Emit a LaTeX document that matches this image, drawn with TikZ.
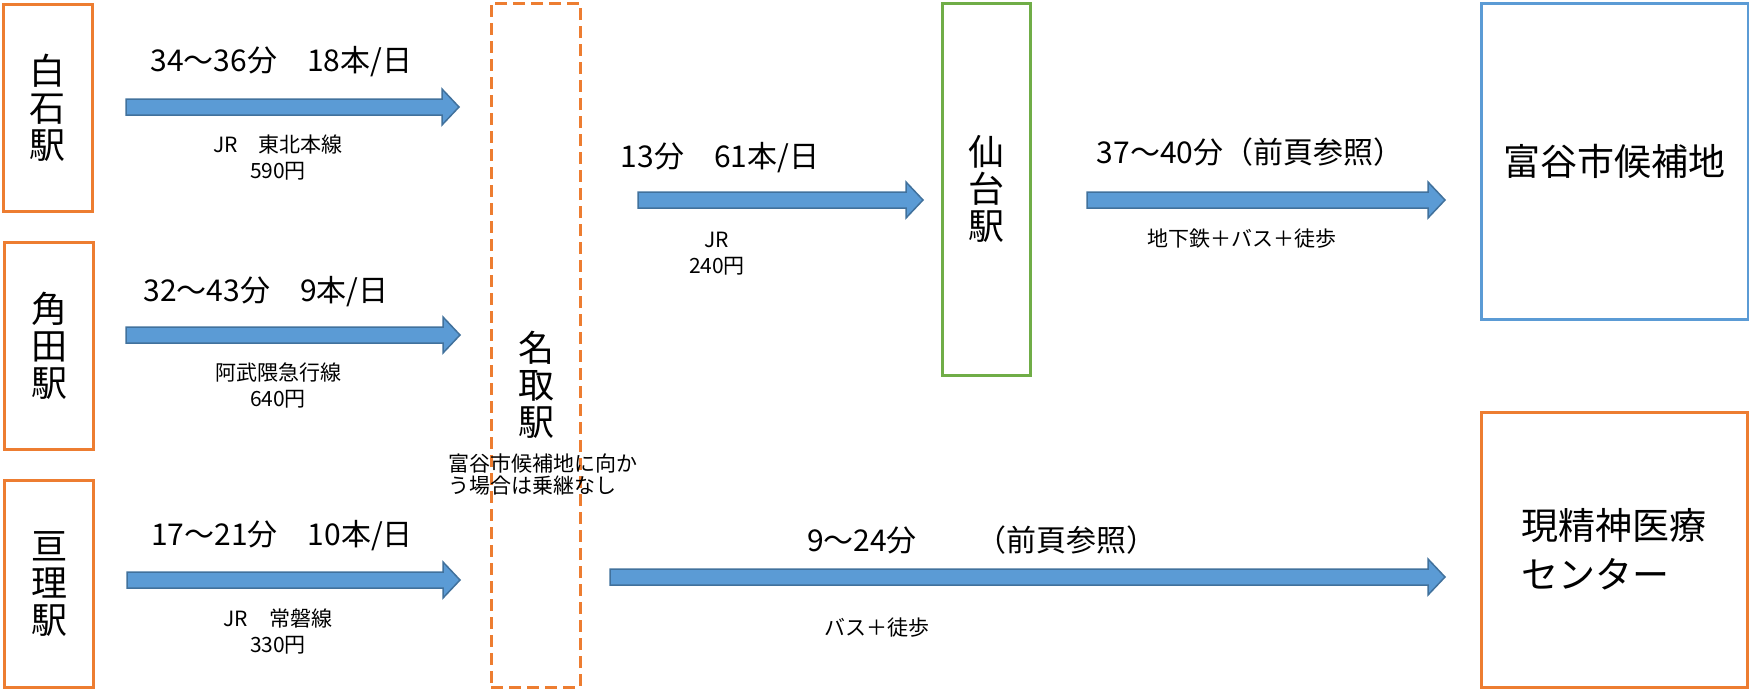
\documentclass[tikz,border=0pt]{standalone}
\usepackage{fontspec}
\setmainfont{Noto Sans CJK JP}
\usetikzlibrary{calc}

\definecolor{boxorange}{HTML}{ED7D31}
\definecolor{boxblue}{HTML}{5B9BD5}
\definecolor{boxgreen}{HTML}{70AD47}
\definecolor{arrowfill}{HTML}{5B9BD5}
\definecolor{arrowedge}{HTML}{41719C}

\tikzset{
  stationbox/.style={draw=boxorange, line width=3pt, minimum width=89pt, minimum height=207pt,
    inner sep=0pt, align=center, font=\fontsize{36}{37}\selectfont},
  goalbox/.style={line width=3pt, minimum width=267pt, inner sep=0pt,
    font=\fontsize{37}{49}\selectfont},
  biglabel/.style={inner sep=0pt, font=\fontsize{30}{36}\selectfont},
  smalllabel/.style={inner sep=0pt, align=center, font=\fontsize{21}{26}\selectfont},
  arrowbody/.style={fill=arrowfill, draw=arrowedge, line width=1.5pt, line join=miter}
}

% block arrow from #1 to #2 (shaft 16, head 36)
\newcommand{\blockarrow}[2]{%
  \path[arrowbody] ($(#1)+(0,-8)$) -- ($(#2)+(-17,-8)$) -- ($(#2)+(-17,-18)$) -- (#2)
    -- ($(#2)+(-17,18)$) -- ($(#2)+(-17,8)$) -- ($(#1)+(0,8)$) -- cycle;}

\begin{document}
\begin{tikzpicture}[x=1pt,y=-1pt]
  \useasboundingbox (0,0) rectangle (1749,691);

  % departure stations
  \node[stationbox] (shiroishi) at (47.5,107.5) {白\\石\\駅};
  \node[stationbox] (kakuda) at (49,346) {角\\田\\駅};
  \node[stationbox] (watari) at (49,584) {亘\\理\\駅};

  % transfer stations
  \node[draw=boxorange, dashed, dash pattern=on 12pt off 6pt, line width=3pt,
        minimum width=89pt, minimum height=684pt] (natori) at (535.5,345) {};
  \node[stationbox, draw=none] (natorilbl) at (536,385) {名\\取\\駅};
  \node[inner sep=0pt, align=left, anchor=west, font=\fontsize{21}{22}\selectfont]
       (natorinote) at (448,475) {富谷市候補地に向か\\う場合は乗継なし};
  \node[stationbox, draw=boxgreen, minimum width=88pt, minimum height=372pt] (sendai) at (986,189) {仙\\台\\駅};

  % destinations
  \node[goalbox, draw=boxblue, minimum height=316pt] (tomiya) at (1614.5,161) {富谷市候補地};
  \node[goalbox, draw=boxorange, minimum width=266pt, minimum height=275pt, align=left]
       (center) at (1614,549.5) {現精神医療\\センター};

  % arrows
  \coordinate (a1s) at (126,107);  \coordinate (a1e) at (459,107);
  \coordinate (a2s) at (126,335);  \coordinate (a2e) at (460,335);
  \coordinate (a3s) at (127,580);  \coordinate (a3e) at (460,580);
  \coordinate (a4s) at (638,200);  \coordinate (a4e) at (923,200);
  \coordinate (a5s) at (1087,200); \coordinate (a5e) at (1445,200);
  \coordinate (a6s) at (610,577);  \coordinate (a6e) at (1445,577);
  \foreach \i in {1,...,6}
    \blockarrow{a\i s}{a\i e};

  % times
  \node[biglabel] (t1) at (281.5,62) {34～36分　18本/日};
  \node[biglabel] (t2) at (266,292) {32～43分　9本/日};
  \node[biglabel] (t3) at (282,536) {17～21分　10本/日};
  \node[biglabel] (t4) at (720,158) {13分　61本/日};
  \node[biglabel] (t5) at (1250,152) {37～40分（前頁参照）};
  \node[biglabel] (t6) at (982,540) {9～24分　　（前頁参照）};

  % lines and fares
  \node[smalllabel] (f1) at (278,158) {JR　東北本線\\590円};
  \node[smalllabel] (f2) at (278,385) {阿武隈急行線\\640円};
  \node[smalllabel] (f3) at (278,631) {JR　常磐線\\330円};
  \node[smalllabel] (f4) at (717,254) {JR\\240円};
  \node[smalllabel] (f5) at (1242,239) {地下鉄＋バス＋徒歩};
  \node[smalllabel] (f6) at (877,628) {バス＋徒歩};
\end{tikzpicture}
\end{document}
